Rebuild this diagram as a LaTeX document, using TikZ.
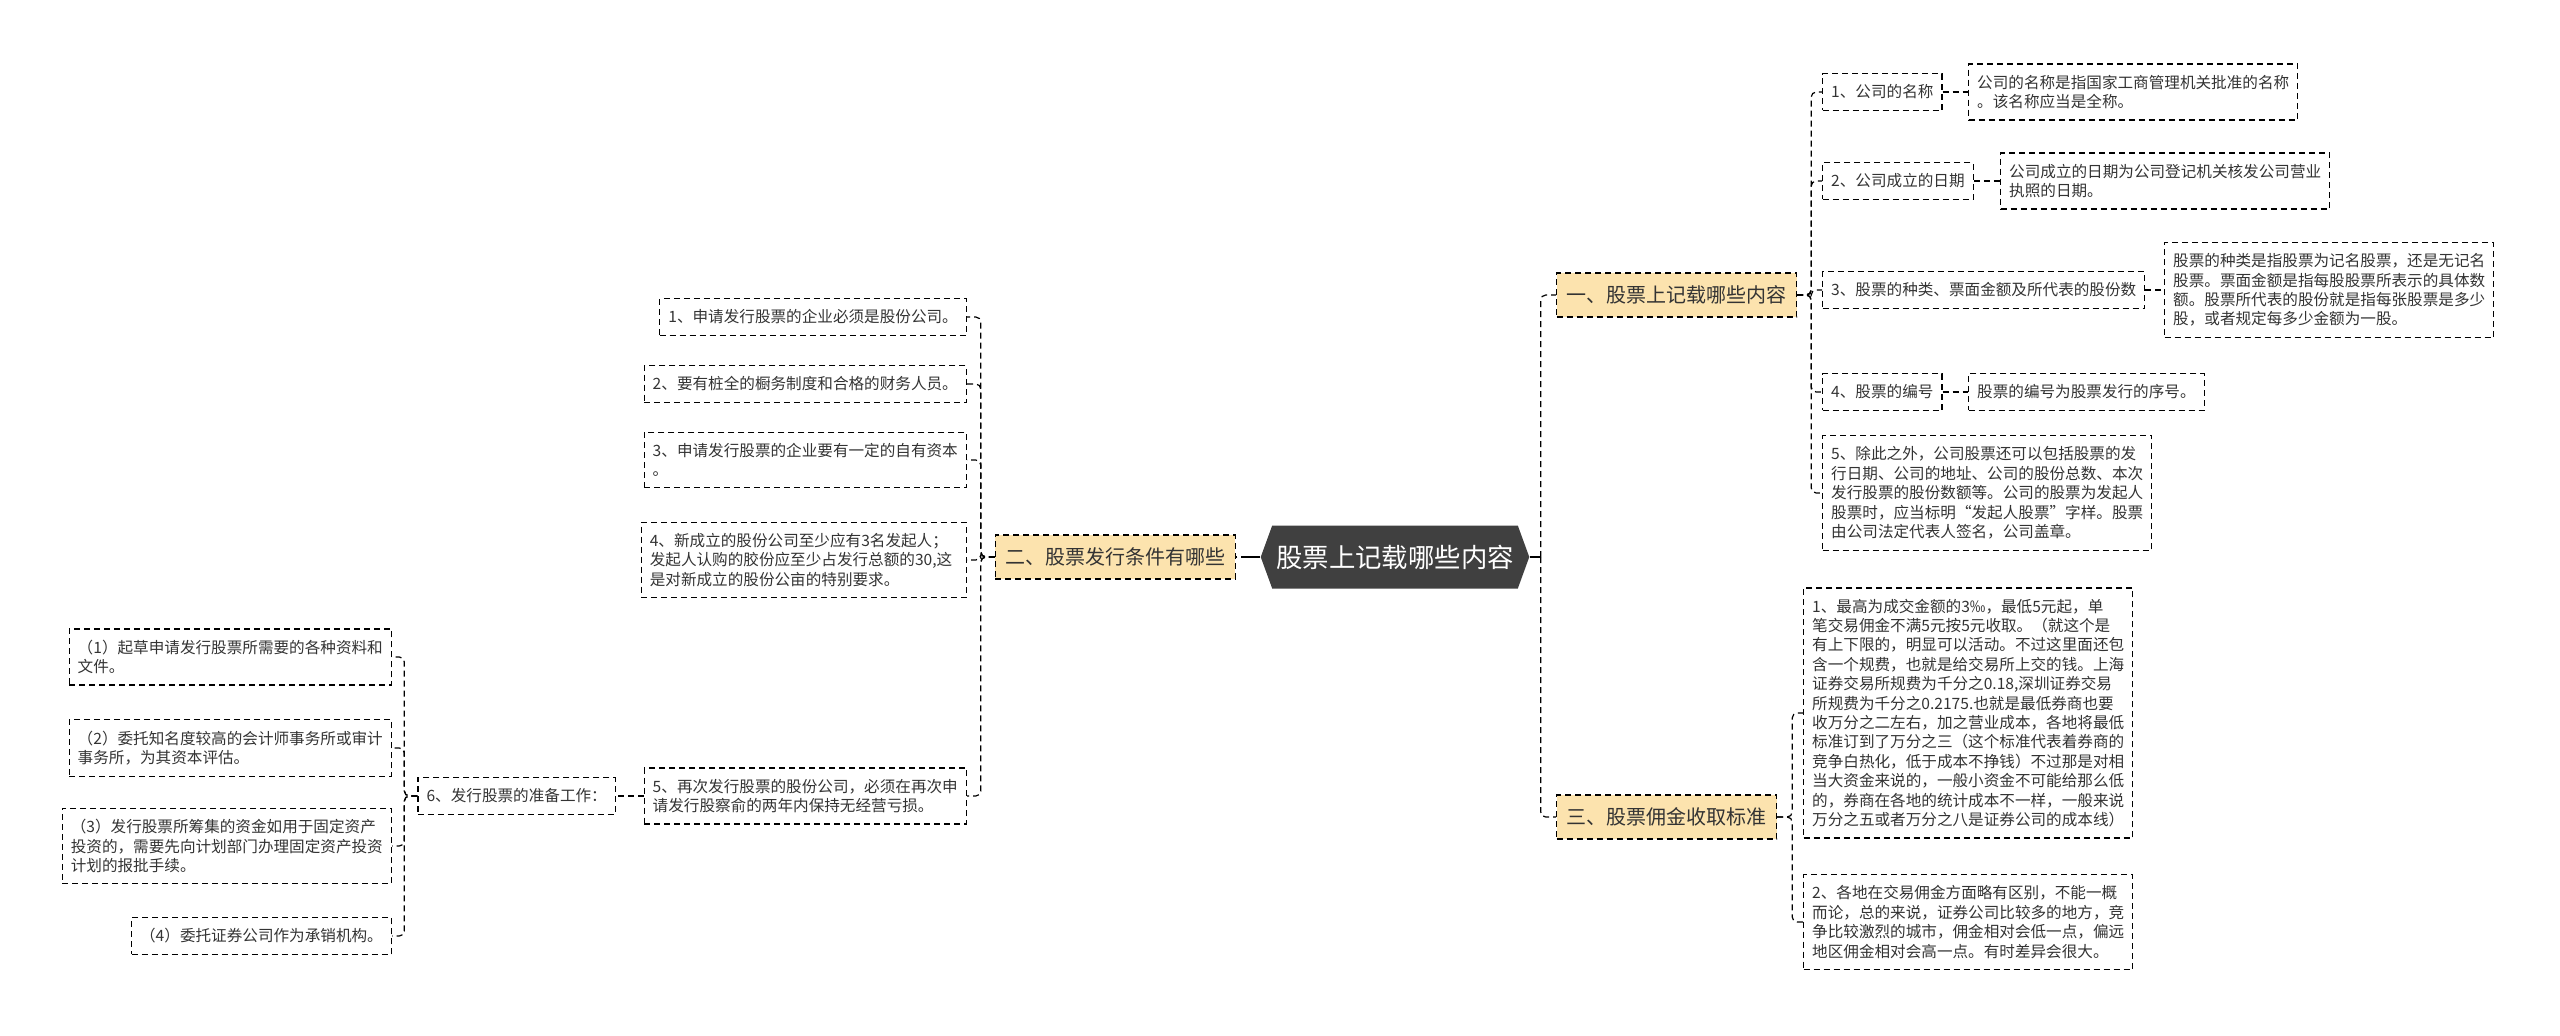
\documentclass[tikz,border=0pt]{standalone}
\usepackage{fontspec}
\setmainfont{Noto Sans CJK SC}
\usetikzlibrary{shapes.symbols}
\definecolor{ink}{HTML}{333333}
\definecolor{dark}{HTML}{404040}
\definecolor{sand}{HTML}{FCE3AE}

\begin{document}
\begin{tikzpicture}[x=0.5pt,y=-0.5pt,
  leaf/.style={draw=black,line width=0.6pt,dash pattern=on 3pt off 2pt,text=ink,align=left,
    inner xsep=4.3pt,inner ysep=5.5pt,font=\fontsize{7.8pt}{9.7pt}\selectfont},
  branch/.style={draw=black,line width=0.6pt,dash pattern=on 3pt off 2pt,fill=sand,text=ink,
    inner xsep=5pt,minimum height=22pt,font=\fontsize{10pt}{12pt}\selectfont},
  root/.style={signal,signal to=west and east,signal pointer angle=140,fill=dark,text=white,
    minimum height=31.5pt,minimum width=132.5pt,inner xsep=2pt,font=\fontsize{13.2pt}{15pt}\selectfont},
  link/.style={draw=black,line width=0.6pt,dash pattern=on 3pt off 2pt,rounded corners=2.5pt}]
\useasboundingbox (0,0) rectangle (2560,1035);

% centre and main branches
\node[root] (root) at (1395,557) {股票上记载哪些内容};
\node[branch,anchor=west] (b1) at (1556,295) {一、股票上记载哪些内容};
\node[branch,anchor=east] (b2) at (1236,557) {二、股票发行条件有哪些};
\node[branch,anchor=west] (b3) at (1556,817) {三、股票佣金收取标准};

% branch 1
\node[leaf,anchor=west] (c1) at (1822,92) {1、公司的名称};
\node[leaf,anchor=west] (g1) at (1968,92) {公司的名称是指国家工商管理机关批准的名称\\。该名称应当是全称。};
\node[leaf,anchor=west] (c2) at (1822,181) {2、公司成立的日期};
\node[leaf,anchor=west] (g2) at (2000,181) {公司成立的日期为公司登记机关核发公司营业\\执照的日期。};
\node[leaf,anchor=west] (c3) at (1822,290) {3、股票的种类、票面金额及所代表的股份数};
\node[leaf,anchor=west] (g3) at (2164,290) {股票的种类是指股票为记名股票，还是无记名\\股票。票面金额是指每股股票所表示的具体数\\额。股票所代表的股份就是指每张股票是多少\\股，或者规定每多少金额为一股。};
\node[leaf,anchor=west] (c4) at (1822,392) {4、股票的编号};
\node[leaf,anchor=west] (g4) at (1968,392) {股票的编号为股票发行的序号。};
\node[leaf,anchor=west] (c5) at (1822,493) {5、除此之外，公司股票还可以包括股票的发\\行日期、公司的地址、公司的股份总数、本次\\发行股票的股份数额等。公司的股票为发起人\\股票时，应当标明“发起人股票”字样。股票\\由公司法定代表人签名，公司盖章。};

% branch 3
\node[leaf,anchor=west] (d1) at (1803,713) {1、最高为成交金额的3‰，最低5元起，单\\笔交易佣金不满5元按5元收取。（就这个是\\有上下限的，明显可以活动。不过这里面还包\\含一个规费，也就是给交易所上交的钱。上海\\证券交易所规费为千分之0.18,深圳证券交易\\所规费为千分之0.2175.也就是最低券商也要\\收万分之二左右，加之营业成本，各地将最低\\标准订到了万分之三（这个标准代表着券商的\\竞争白热化，低于成本不挣钱）不过那是对相\\当大资金来说的，一般小资金不可能给那么低\\的，券商在各地的统计成本不一样，一般来说\\万分之五或者万分之八是证券公司的成本线）};
\node[leaf,anchor=west] (d2) at (1803,922) {2、各地在交易佣金方面略有区别，不能一概\\而论，总的来说，证券公司比较多的地方，竞\\争比较激烈的城市，佣金相对会低一点，偏远\\地区佣金相对会高一点。有时差异会很大。};

% branch 2
\node[leaf,anchor=east] (e1) at (967,317) {1、申请发行股票的企业必须是股份公司。};
\node[leaf,anchor=east] (e2) at (967,384) {2、要有桩全的橱务制度和合格的财务人员。};
\node[leaf,anchor=east] (e3) at (967,460) {3、申请发行股票的企业要有一定的自有资本\\。};
\node[leaf,anchor=east,text width=154pt] (e4) at (967,560) {4、新成立的股份公司至少应有3名发起人；\\发起人认购的胶份应至少占发行总额的30,这\\是对新成立的股份公亩的特别要求。};
\node[leaf,anchor=east] (e5) at (967,796) {5、再次发行股票的股份公司，必须在再次申\\请发行股察俞的两年内保持无经营亏损。};
\node[leaf,anchor=east] (e6) at (616,796) {6、发行股票的准备工作：};
\node[leaf,anchor=east] (f1) at (392,657) {（1）起草申请发行股票所需要的各种资料和\\文件。};
\node[leaf,anchor=east] (f2) at (392,748) {（2）委托知名度较高的会计师事务所或审计\\事务所，为其资本评估。};
\node[leaf,anchor=east] (f3) at (392,846) {（3）发行股票所筹集的资金如用于固定资产\\投资的，需要先向计划部门办理固定资产投资\\计划的报批手续。};
\node[leaf,anchor=east] (f4) at (392,936) {（4）委托证券公司作为承销机构。};

% connectors
\coordinate (rj) at ([xshift=5.5pt]root.east);
\coordinate (lj) at ([xshift=-6.5pt]root.west);
\draw[line width=0.6pt] (root.east) -- (rj);
\draw[line width=0.6pt] (root.west) -- (lj);
\foreach \b in {b1,b3}{\draw[link] (rj) |- (\b.west);}
\draw[link] (lj) -- (b2.east);
\foreach \c in {c1,c2,c3,c4,c5}{\draw[link] (b1.east) -- ++(14,0) |- (\c.west);}
\foreach \c/\g in {c1/g1,c2/g2,c3/g3,c4/g4}{\draw[link] (\c.east) -- (\g.west);}
\foreach \d in {d1,d2}{\draw[link] (b3.east) -- ++(15,0) |- (\d.west);}
\foreach \e in {e1,e2,e3,e4,e5}{\draw[link] (b2.west) -- ++(-14,0) |- (\e.east);}
\draw[link] (e5.west) -- (e6.east);
\foreach \f in {f1,f2,f3,f4}{\draw[link] (e6.west) -- ++(-13,0) |- (\f.east);}
\end{tikzpicture}
\end{document}
